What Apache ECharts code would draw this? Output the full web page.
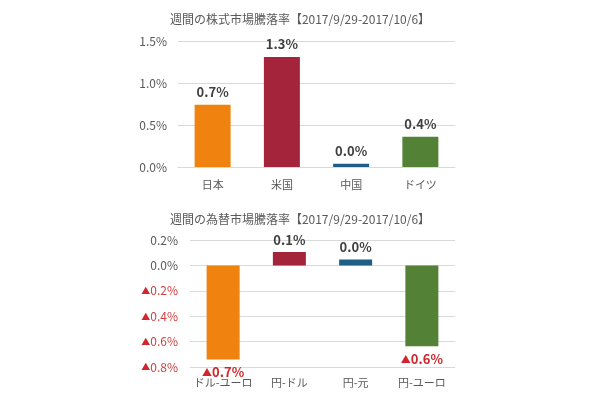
<!DOCTYPE html>
<html>
<head>
<meta charset="utf-8">
<script src="https://cdn.jsdelivr.net/npm/echarts@6/dist/echarts.min.js"></script>
<style>
    html, body { margin: 0; padding: 0; background: #fff; }
    #main { width: 600px; height: 400px; }
</style>
</head>
<body>
<div id="main"></div>
<script>
// 株式市場
let stockTitle = '週間の株式市場騰落率【2017/9/29-2017/10/6】';
let stockNames = ['日本', '米国', '中国', 'ドイツ'];
let stockValues = [0.74, 1.31, 0.04, 0.36];

// 為替市場
let fxTitle = '週間の為替市場騰落率【2017/9/29-2017/10/6】';
let fxNames = ['ドル-ユーロ', '円-ドル', '円-元', '円-ユーロ'];
let fxValues = [-0.74, 0.105, 0.047, -0.637];

let barColors = ['#f0820f', '#a4243b', '#1f5f86', '#538135'];

window.addEventListener('load', function() {
    let myChart = echarts.init(document.getElementById('main'));
    let font = '"Noto Sans CJK JP", "Noto Sans", sans-serif';
    let red = '#d0262d';

    function pct(v) {
        return v < 0 ? '{tri|▲}{neg|' + Math.abs(v).toFixed(1) + '%}' : v.toFixed(1) + '%';
    }

    function items(values) {
        return values.map(function(v, i) {
            return {
                value: v,
                itemStyle: { color: barColors[i] },
                label: { position: v < 0 ? 'bottom' : 'top' }
            };
        });
    }

    let labelStyle = {
        show: true,
        fontFamily: font,
        fontSize: 13,
        fontWeight: 'bold',
        color: '#404040',
        distance: 6,
        formatter: function(p) { return pct(p.value); },
        rich: {
            tri: { color: red, fontFamily: font, fontSize: 10 },
            neg: { color: red, fontFamily: font, fontSize: 13, fontWeight: 'bold' }
        }
    };

    let gridLine = { lineStyle: { color: '#d9d9d9' } };

    let option = {
        animation: false,
        textStyle: { fontFamily: font },
        title: [{
            text: stockTitle,
            left: 'center',
            top: 8,
            textStyle: { fontFamily: font, fontSize: 12, fontWeight: 'normal', color: '#595959' }
        }, {
            text: fxTitle,
            left: 'center',
            top: 208,
            textStyle: { fontFamily: font, fontSize: 12, fontWeight: 'normal', color: '#595959' }
        }],
        grid: [
            { left: 178, right: 145, top: 41, bottom: 233 },
            { left: 190, right: 145, top: 240, bottom: 33 }
        ],
        xAxis: [{
            type: 'category',
            gridIndex: 0,
            data: stockNames,
            axisTick: { show: false },
            axisLine: gridLine,
            axisLabel: { color: '#595959', fontSize: 11, margin: 12, interval: 0 }
        }, {
            type: 'category',
            gridIndex: 1,
            data: fxNames,
            position: 'bottom',
            axisTick: { show: false },
            axisLine: { show: false, onZero: false },
            axisLabel: { color: '#595959', fontSize: 11, margin: 10, interval: 0 }
        }],
        yAxis: [{
            type: 'value',
            gridIndex: 0,
            min: 0,
            max: 1.5,
            interval: 0.5,
            splitLine: gridLine,
            axisLabel: {
                color: '#595959',
                fontSize: 12,
                margin: 11,
                formatter: function(v) { return v.toFixed(1) + '%'; }
            }
        }, {
            type: 'value',
            gridIndex: 1,
            min: -0.8,
            max: 0.2,
            interval: 0.2,
            splitLine: gridLine,
            axisLabel: {
                color: '#595959',
                fontSize: 12,
                margin: 12,
                formatter: function(v) { return pct(v); },
                rich: {
                    tri: { color: red, fontSize: 9 },
                    neg: { color: '#d04040', fontSize: 12 }
                }
            }
        }],
        series: [{
            name: '株式',
            type: 'bar',
            xAxisIndex: 0,
            yAxisIndex: 0,
            barWidth: 36,
            label: labelStyle,
            data: items(stockValues)
        }, {
            name: '為替',
            type: 'bar',
            xAxisIndex: 1,
            yAxisIndex: 1,
            barWidth: 33,
            label: labelStyle,
            data: items(fxValues)
        }]
    };

    myChart.setOption(option);
});
</script>
</body>
</html>
